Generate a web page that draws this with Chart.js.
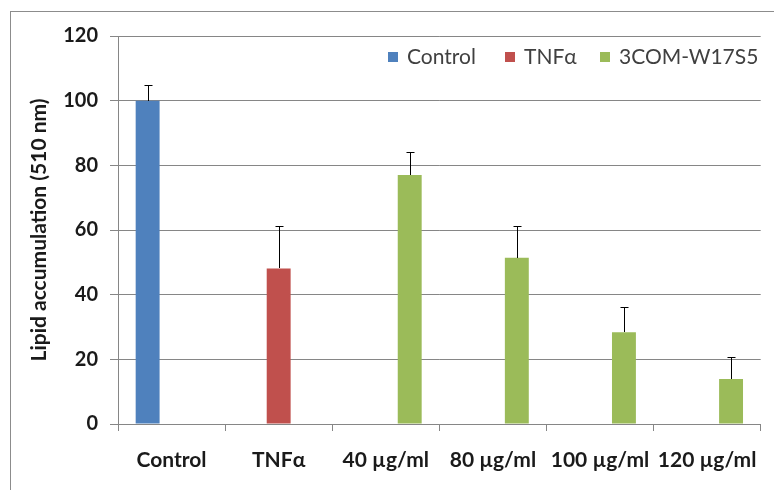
<!DOCTYPE html>
<html>
<head>
<meta charset="utf-8">
<script src="https://cdn.jsdelivr.net/npm/chart.js@4"></script>
<style>
    body { margin: 0; background: #fff; overflow: hidden; }
    .frame { position: absolute; left: 10px; top: 11px; width: 900px; height: 600px; border: 1px solid #8c8c8c; }
    #lipid_chart { position: absolute; left: 0; top: 0; }
</style>
</head>
<body>
<div class="frame"></div>
<canvas id="lipid_chart" width="774" height="490"></canvas>
<script>
// groups on the x axis and the three series
var groups = ["Control", "TNF\u03b1", "40 \u00b5g/ml", "80 \u00b5g/ml", "100 \u00b5g/ml", "120 \u00b5g/ml"];
var control_values = [100, null, null, null, null, null];
var tnf_values = [null, 48.1, null, null, null, null];
var treated_values = [null, null, 77.0, 51.4, 28.4, 13.9];

// standard deviations (drawn upward only)
var control_errors = [4.8, null, null, null, null, null];
var tnf_errors = [null, 13.1, null, null, null, null];
var treated_errors = [null, null, 7.1, 9.8, 7.7, 6.7];

var y_ticks = [0, 20, 40, 60, 80, 100, 120];

var font_name = 'Lato, "Open Sans", sans-serif';

// error bar caps on top of every bar
var error_bars = {
    id: 'error_bars',
    afterDatasetsDraw: function (chart) {
        var ctx = chart.ctx;
        var y = chart.scales.y;
        ctx.save();
        ctx.strokeStyle = '#000';
        ctx.lineWidth = 1;
        chart.data.datasets.forEach(function (ds, i) {
            var meta = chart.getDatasetMeta(i);
            meta.data.forEach(function (bar, j) {
                if (ds.data[j] == null || ds.errors[j] == null) return;
                var x = Math.round(bar.x) + 0.5;
                var top = Math.round(y.getPixelForValue(ds.data[j] + ds.errors[j])) + 0.5;
                ctx.beginPath();
                ctx.moveTo(x, Math.round(bar.y));
                ctx.lineTo(x, top);
                ctx.moveTo(x - 4, top);
                ctx.lineTo(x + 4, top);
                ctx.stroke();
            });
        });
        ctx.restore();
    }
};

// legend sits inside the plot, under the top gridline
var inner_legend = {
    id: 'inner_legend',
    afterDraw: function (chart) {
        var ctx = chart.ctx;
        var spots = [388, 505, 600];
        ctx.save();
        ctx.font = '21px ' + font_name;
        ctx.textBaseline = 'middle';
        chart.data.datasets.forEach(function (ds, i) {
            ctx.fillStyle = ds.backgroundColor;
            ctx.fillRect(spots[i], 52, 10, 10);
            ctx.fillStyle = '#404040';
            ctx.fillText(ds.label, spots[i] + 19, 57);
        });
        ctx.restore();
    }
};

var lipid_chart = document.getElementById('lipid_chart').getContext('2d');
var lipid_bar_chart = new Chart(lipid_chart, {
    type: 'bar',
    data: {
        labels: groups,
        datasets: [{
            label: 'Control',
            data: control_values,
            errors: control_errors,
            backgroundColor: '#4f81bd',
        }, {
            label: 'TNF\u03b1',
            data: tnf_values,
            errors: tnf_errors,
            backgroundColor: '#c0504d',
        }, {
            label: '3COM-W17S5',
            data: treated_values,
            errors: treated_errors,
            backgroundColor: '#9bbb59',
        }]
    },
    options: {
        responsive: false,
        animation: false,
        categoryPercentage: 0.67,
        barPercentage: 1.0,
        layout: {
            padding: { top: 36, right: 7, left: 0, bottom: 0 },
        },
        scales: {
            x: {
                afterFit: function (scale) { scale.height = 66; },
                grid: {
                    drawOnChartArea: false,
                    tickLength: 7,
                    color: '#868686',
                },
                border: { color: '#868686' },
                ticks: {
                    color: '#1a1a1a',
                    padding: 17,
                    maxRotation: 0,
                    minRotation: 0,
                    autoSkip: false,
                    font: { family: font_name, size: 21, weight: 'bold' },
                },
            },
            y: {
                min: 0,
                max: 120,
                afterFit: function (scale) { scale.width = 118; },
                afterBuildTicks: function (scale) {
                    scale.ticks = y_ticks.map(function (v) { return { value: v }; });
                },
                grid: {
                    color: '#868686',
                    tickLength: 8,
                },
                border: { color: '#868686' },
                ticks: {
                    color: '#1a1a1a',
                    padding: 12,
                    font: { family: font_name, size: 20, weight: 'bold' },
                },
                title: {
                    display: true,
                    text: 'Lipid accumulation (510 nm)',
                    color: '#1a1a1a',
                    padding: { top: 27, bottom: 0 },
                    font: { family: font_name, size: 21, weight: 'bold' },
                },
            },
        },
        plugins: {
            legend: { display: false },
            tooltip: { enabled: false },
        },
    },
    plugins: [error_bars, inner_legend]
});
</script>
</body>
</html>
